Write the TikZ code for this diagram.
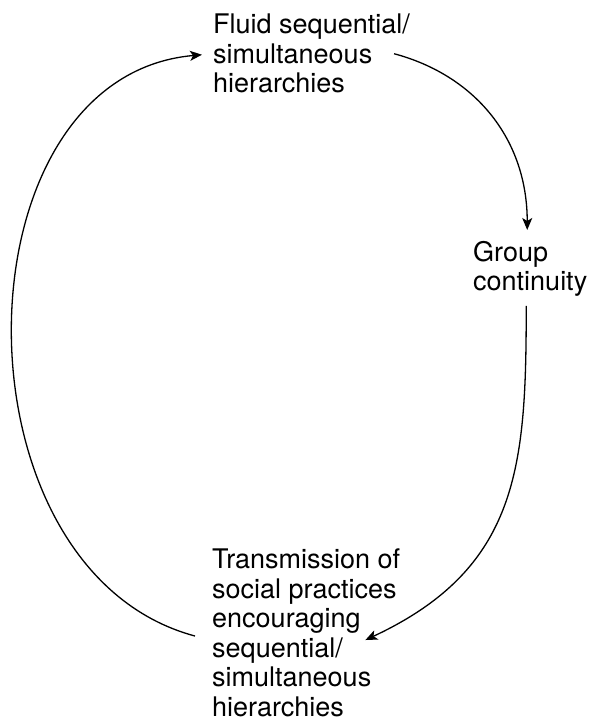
\documentclass[tikz,border=0pt]{standalone}
\usepackage{fontspec}
\setmainfont{TeX Gyre Heros}
\usetikzlibrary{arrows.meta}

\begin{document}
\begin{tikzpicture}[x=1pt,y=1pt,
    box/.style={inner sep=0pt,anchor=north west,align=left,
      font=\fontsize{27}{29.5}\selectfont},
    link/.style={line width=1.3pt,-{Stealth[length=12pt,width=10pt,inset=3pt]}}]
    \useasboundingbox (0,0) rectangle (591,723);

    % the three stages
    \node[box] (fluid) at (213,709) {Fluid sequential/\\simultaneous\\hierarchies};
    \node[box] (group) at (473,482) {Group\\continuity};
    \node[box] (trans) at (212,174) {Transmission of\\social practices\\encouraging\\sequential/\\simultaneous\\hierarchies};

    % the cycle
    \draw[link] ([xshift=-16pt]fluid.east)
      to[out=-15,in=90,out distance=85pt,in distance=90pt]
      ([xshift=-3pt,yshift=11pt]group.north);
    \draw[link] ([xshift=-4pt,yshift=-9pt]group.south)
      to[out=-90,in=25,out distance=160pt,in distance=170pt]
      ([xshift=-35pt,yshift=-7pt]trans.east);
    \draw[link] ([xshift=-17pt,yshift=-3pt]trans.west)
      to[out=165,in=185,out distance=256pt,in distance=250pt]
      ([xshift=-11pt,yshift=-1pt]fluid.west);
\end{tikzpicture}
\end{document}
